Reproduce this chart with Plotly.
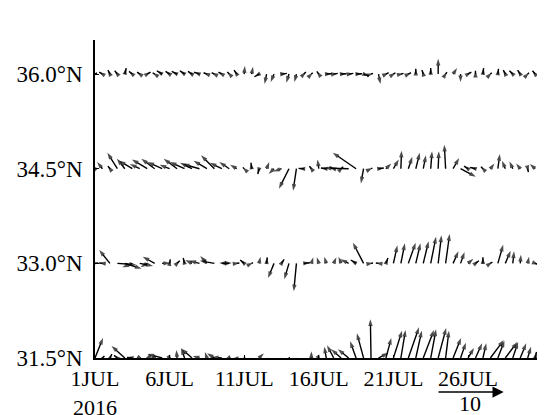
import plotly.graph_objects as go

# ---------------- data (m/s), 12-hourly from 1 JUL 2016 00Z ----------------
lat_rows = [36.0, 34.5, 33.0, 31.5]

u_360 = [0.3, -0.5, -0.3, -0.4, 0.2,
         -0.5, -0.4, 0.5, -0.3, -0.8, -0.6, -0.8, -0.7, -0.6, -0.8, -0.5, -0.4, -0.5, -0.3, -0.4, 0.1, 0.2, -0.7, -0.3, -0.5, 0.8,
         -0.4, -0.3, 0.3, 0.2, -0.3, 0.8, 0.6, 0.8, 0.7, 0.9, 0.8, 0.3, 0.3, 0.4, 0.3, 0.4, 0.4, 0.0, -0.2, 0.0, 0.0, 0.2, 0.6, 0.0, 0.5,
         0.0, 0.1, 0.2, 0.1, -0.3, -0.5, -0.4, 0.2, -0.4, 0.3]
v_360 = [0.2, 0.3, 0.6, 0.5, 0.9,
         0.4, 0.3, 0.3, 0.2, 0.5, 0.4, 0.4, 0.5, 0.4, 0.3, 0.2, 0.2, 0.3, 0.3, 0.6, 1.2, 1.1, -0.4, -1.5, -1.2, 0.1,
         -1.3, -1.2, 0.3, 0.2, 0.4, 0.05, 0.1, 0.05, 0.1, 0.05, -0.3, 0.1, -1.5, 0.2, 0.2, 0.1, 0.2, 0.8, 0.6, 0.9, 2.3, 0.3, 0.9, -1.2, 0.3,
         0.5, 0.9, 0.2, 0.8, 0.6, 0.5, 0.6, 0.2, 0.5, 0.3]

u_345 = [-0.5, -0.8, -0.3, -1.5, -1.2,
         -2.0, -1.5, -2.3, -2.0, -2.2, -1.5, -2.0, -2.2, -1.8, -2.5, -2.0, -2.0, -1.8, -1.5, -1.0, -0.2, -0.1, -0.2, 0.4, -0.8, -1.2,
         -1.5, -0.5, -0.8, -0.3, -0.2, -0.8, -0.6, 0.3, -3.6, -3.5, -0.4, 0.2, 0.8, 0.8, 0.8, 0.1, 0.6, 0.6, 0.4, 0.2, 0.1, -0.2, 0.9, 2.3, -0.6,
         -0.8, -0.3, 0.6, 0.3, -0.5, -0.5, -0.6, 0.1, -0.8, 0.4]
v_345 = [0.5, 1.0, 0.4, 2.4, 1.5,
         1.2, 0.7, 1.4, 1.5, 1.0, 0.6, 1.5, 1.0, 0.9, 0.7, 1.2, 2.0, 0.9, 1.0, 0.6, 0.2, 0.9, -0.8, 1.0, -0.8, -0.4,
         -3.0, -3.3, 0.05, 0.4, 1.4, 0.1, 0.2, 0.3, 0.1, 2.4, -2.2, 0.1, 0.1, 0.8, 1.4, 2.7, 1.8, 2.4, 2.0, 2.6, 2.6, 3.6, 1.6, -1.2, 0.4,
         0.2, 0.3, 0.8, 2.2, 1.2, 1.1, 0.8, -0.5, 0.7, 0.4]

u_330 = [0.5, -0.5,
         -1.6, 2.8, 2.5, -1.5, 2.0, -1.0, -1.8, 1.2, 0.1, 0.4, -0.2, -1.0, -1.5, -1.0, -2.2, 1.5, -1.5, 0.4, -0.6, 0.2, 0.2, 0.1, -0.9, 0.4,
         -0.7, -0.4, 0.9, 0.3, -0.3, -0.3, 0.4, -0.4, -1.2, -0.8, -1.6, 0.3, -0.4, 0.3, 0.6, 0.6, 1.1, 0.7, 0.8, 0.8, 0.5, 0.6, 0.8, 0.6, 0.8, 0.5,
         0.0, 0.3, 0.8, 0.8, 0.2, 0.1, 0.2, 0.5, -0.6]
v_330 = [0.05, 0.05,
         2.0, -0.2, -0.8, -0.6, -0.4, -0.6, 1.0, 0.05, 0.6, 0.4, 0.8, 0.5, 0.4, 1.1, 0.4, 0.05, 0.05, 0.05, 0.5, 0.1, 1.0, 0.9, -2.2, 0.6,
         -2.4, -4.2, 0.1, 0.9, 0.9, 1.0, 0.9, 1.0, 0.6, 0.5, 3.1, 0.05, 0.05, 0.8, 2.7, 3.0, 3.1, 3.0, 3.3, 4.0, 4.2, 4.4, 1.8, 1.7, 0.7, 0.4,
         0.9, 0.2, 2.8, 1.9, 1.8, 1.3, 1.0, -0.2, 0.2]

u_315 = [1.2, 0.3, 0.3, -0.5, -2.0,
         -0.8, 0.5, -0.3, 0.4, -2.2, 0.3, -0.1, -0.5, -1.6, -1.0, -0.3, -1.1, -1.5, 0.5, 0.3, 0.1, -0.5, 0.7, 0.3, 0.5, -0.3,
         0.1, 0.4, 0.2, 0.0, 0.3, -0.3, -1.0, -1.5, -1.6, -0.9, -1.0, -0.1, 1.5, 0.8, 1.3, 0.7, 1.6, 0.9, 1.6, 0.8, 1.2, 0.5, 1.2, 0.8, 0.9,
         1.0, 0.5, 2.0, 1.0, 1.8, 0.8, 0.9, 0.5, 0.2, -0.3]
v_315 = [3.0, 0.3, 0.6, 0.4, 1.8,
         0.1, -0.3, -0.2, -0.5, 0.6, -0.5, 1.2, 1.5, 1.4, 0.3, 0.9, 0.7, 0.1, -0.5, -0.8, 0.2, -1.0, 0.7, -1.0, -1.5, -1.2,
         0.1, -2.0, -3.0, 1.0, -0.5, 1.7, 1.9, 1.3, 1.3, 2.5, 3.7, 5.8, 0.8, 3.0, 4.1, 4.2, 4.6, 4.1, 4.2, 4.3, 4.5, 4.1, 3.0, 2.3, 1.5,
         2.2, 2.2, 2.7, 2.6, 2.4, 2.4, 2.2, 1.7, 0.9, 0.8]

u_rows = [u_360, u_345, u_330, u_315]
v_rows = [v_360, v_345, v_330, v_315]

time_step_days = 0.5
x_ticks = [0, 5, 10, 15, 20, 25]
x_ticktext = ["1JUL<br>2016", "6JUL", "11JUL", "16JUL", "21JUL", "26JUL"]
y_ticks = [31.5, 33.0, 34.5, 36.0]
y_ticktext = ["31.5°N", "33.0°N", "34.5°N", "36.0°N"]
ref_speed = 10.0
ref_start_day = 22.92

# ---------------- layout geometry ----------------
# the page body adds an 8 px offset, so the figure is 8 px smaller than the window
W, H = 537, 407
ML, MR, MT, MB = 87, 0, 32, 57
x_range = [0, 30.16]
y_range = [31.5, 36.54]
px_per_day = (W - ML - MR) / (x_range[1] - x_range[0])
px_per_deg = (H - MT - MB) / (y_range[1] - y_range[0])
px_per_ms = 6.67  # vector length scale (10 m/s = 66.7 px)
dx_per_ms = px_per_ms / px_per_day
dy_per_ms = px_per_ms / px_per_deg

fig = go.Figure()
for lat, us, vs in zip(lat_rows, u_rows, v_rows):
    xs, ys, sizes = [], [], []
    for i, (u, v) in enumerate(zip(us, vs)):
        t = i * time_step_days
        xs += [t, t + u * dx_per_ms, None]
        ys += [lat, lat + v * dy_per_ms, None]
        sizes += [0, 7, 0]
    fig.add_trace(go.Scatter(
        x=xs, y=ys, mode="lines+markers",
        line=dict(color="black", width=1.4),
        marker=dict(symbol="arrow", size=sizes, color="black", angleref="previous",
                    line=dict(width=0)),
        hoverinfo="skip", showlegend=False))

font = dict(family="Liberation Serif, Times New Roman, serif", size=23, color="black")
xfont = dict(family="Liberation Serif, Times New Roman, serif", size=22, color="black")

# reference vector
fig.add_annotation(x=ref_start_day + ref_speed * dx_per_ms, y=-0.107, xref="x", yref="paper",
                   ax=ref_start_day, ay=0, axref="x", ayref="pixel",
                   text="", showarrow=True, arrowhead=2, arrowsize=1.4, arrowwidth=1.6,
                   arrowcolor="black")
fig.add_annotation(x=ref_start_day + ref_speed * dx_per_ms / 2, y=-0.142, xref="x", yref="paper",
                   text=str(int(ref_speed)), showarrow=False, font=xfont, yanchor="middle")

fig.update_layout(
    width=W, height=H, margin=dict(l=ML, r=MR, t=MT, b=MB, autoexpand=False),
    paper_bgcolor="white", plot_bgcolor="white", font=font,
    xaxis=dict(range=x_range, tickvals=x_ticks, ticktext=x_ticktext, showgrid=False,
               zeroline=False, showline=True, linecolor="black", linewidth=1.5,
               ticks="inside", ticklen=3, tickcolor="black", tickfont=xfont,
               automargin=False),
    yaxis=dict(range=y_range, tickvals=y_ticks, ticktext=y_ticktext, showgrid=False,
               zeroline=False, showline=True, linecolor="black", linewidth=1.5,
               ticks="inside", ticklen=4, tickcolor="black", tickfont=font,
               ticklabelstandoff=6, automargin=False),
)

fig.write_html("out.html")
